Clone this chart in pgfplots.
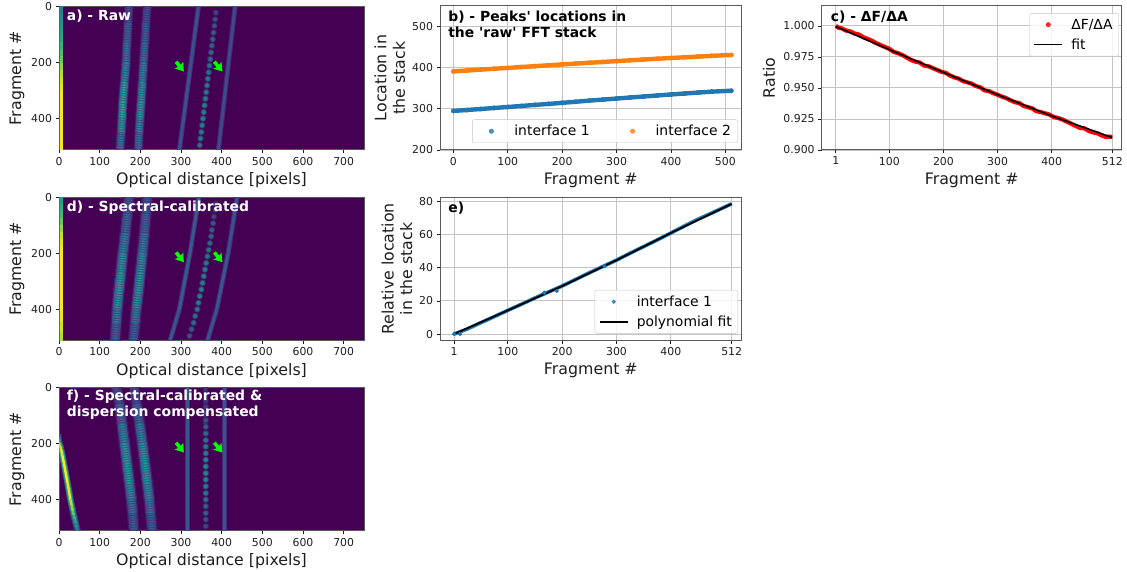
\documentclass[border=0pt]{standalone}
\usepackage{fontspec}
\setmainfont{DejaVu Sans}[Ligatures=TeXOff]
\usepackage{pgfplots}
\usepackage{pgfplotstable}
\pgfplotsset{compat=1.18}
\usetikzlibrary{arrows.meta}
\definecolor{mplblue}{HTML}{1F77B4}
\definecolor{mplorange}{HTML}{FF7F0E}
\definecolor{bgv}{HTML}{440154}
\definecolor{gridc}{HTML}{C4C4C4}
\definecolor{spine}{HTML}{5A5A5A}
\definecolor{txt}{HTML}{1E1E1E}
\newcommand\tickf{\fontsize{10.9}{12}\selectfont}
\newcommand\labf{\fontsize{15.8}{18.5}\selectfont}
\newcommand\legf{\fontsize{13.9}{16}\selectfont}
\newcommand\titf{\fontsize{13.9}{16}\selectfont\bfseries}
\pgfplotsset{
 base/.style={scale only axis,anchor=south west,
  /pgf/number format/assume math mode=true,
  tick align=outside,tick pos=left,major tick length=3.5pt,
  tick style={color=txt,line width=0.7pt},
  axis line style={color=spine,line width=1pt},
  tick label style={font=\tickf,color=txt},
  label style={font=\labf,color=txt},
  xlabel style={at={(axis description cs:0.5,-0.21)},anchor=center},
  clip=true,
  legend cell align=left,
  legend image code/.code={\path[draw=none,fill=none] (0pt,-1pt) rectangle (35pt,1pt);\draw[mark repeat=2,mark phase=2,##1] plot coordinates {(0pt,0pt)(14pt,0pt)(28pt,0pt)};},
 },
 heat/.style={base,width=305pt,height=143.5pt,xmin=0,xmax=750,ymin=0,ymax=512,y dir=reverse,
  xtick={0,100,...,700},ytick={0,200,400},
  xlabel={Optical distance [pixels]},ylabel={Fragment \#},
  ylabel style={at={(axis description cs:-0.138,0.5)},anchor=center},
  axis background/.style={fill=bgv},
  colormap/viridis,point meta min=0,point meta max=1},
 line/.style={base,width=301.7pt,height=144pt,grid=major,grid style={color=gridc,line width=0.9pt},
  legend style={draw=gridc,rounded corners=2pt,fill=white,fill opacity=0.8,text opacity=1,font=\legf,row sep=4pt,inner xsep=4pt,inner ysep=3.5pt}},
}
% --- helpers that draw the soft bands of the heat maps
\newcommand\glow[5]{%
 \addplot[mesh,line width=#2pt,point meta={\thisrow{m}*0.16}] table[x=x,y=y]{#1};
 \addplot[mesh,line width=#3pt,point meta={\thisrow{m}*0.5}] table[x=x,y=y]{#1};
 \addplot[mesh,line width=#4pt,dash pattern=on 1.2pt off 1.2pt,point meta={\thisrow{m}*0.8}] table[x=x,y=y]{#1};
 \addplot[mesh,line width=#5pt,dash pattern=on 1.2pt off 1.2pt,point meta={\thisrow{m}}] table[x=x,y=y]{#1};
}
\newcommand\faint[1]{%
 \addplot[mesh,line width=5pt,point meta={\thisrow{m}*0.55}] table[x=x,y=y]{#1};
 \addplot[mesh,line width=2.8pt,point meta={\thisrow{m}*1.2}] table[x=x,y=y]{#1};
}
\newcommand\beads[1]{%
 \addplot[scatter,only marks,mark=*,mark size=3pt,scatter src=explicit,point meta={\thisrow{m}*0.5},mark options={draw=none}] table[x=x,y=y]{#1};
 \addplot[scatter,only marks,mark=*,mark size=2.2pt,scatter src=explicit,point meta={\thisrow{m}*1.1},mark options={draw=none}] table[x=x,y=y]{#1};
}
\newcommand\limearrow[4]{%
 \addplot[color=green,line width=3.6pt,-{Stealth[length=8pt,width=10.5pt,inset=1.5pt]}] coordinates {(#1,#2)(#3,#4)};
}
% ---- panel a
\pgfplotstableread{
x y m
172 0 0.24
170 60 0.30
167 130 0.38
165 200 0.44
161 270 0.55
157 340 0.66
155 400 0.62
153 450 0.48
150 512 0.34
}\aA
\pgfplotstableread{
x y m
217 0 0.24
214 60 0.30
211 130 0.36
208 200 0.42
205 270 0.50
202 340 0.58
199 400 0.55
197 450 0.44
195 512 0.34
}\aB
\pgfplotstableread{
x y m
343 0 0.20
296 512 0.22
}\aC
\pgfplotstableread{
x y m
433 0 0.18
392 512 0.20
}\aD
\pgfplotstableread{
x y m
386 22 0.18
384 46 0.21
382 69 0.23
380 93 0.25
378 117 0.26
376 140 0.27
374 164 0.29
372 188 0.30
370 211 0.32
368 235 0.33
366 258 0.34
364 282 0.36
362 306 0.36
360 329 0.37
358 353 0.38
356 377 0.38
354 400 0.38
352 424 0.38
350 448 0.37
348 471 0.36
346 495 0.33
}\aE
\pgfplotstableread{
x y m
4.5 0 0.42
4.5 25 0.46
4.5 50 0.50
4.5 75 0.54
4.5 100 0.58
4.5 125 0.63
4.5 150 0.68
4.5 175 0.74
4.5 200 0.80
4.5 225 0.86
4.5 250 0.91
4.5 275 0.95
4.5 300 0.98
4.5 512 1.00
}\aF
\pgfplotstableread{
x y m
0.7 0 0.36
0.7 512 0.36
}\aG
% ---- panel d
\pgfplotstableread{
x y m
172 0 0.26
168 60 0.32
163 130 0.40
157 200 0.50
152 270 0.58
147 340 0.58
143 400 0.50
141 450 0.40
138 512 0.28
}\dA
\pgfplotstableread{
x y m
217 0 0.26
214 60 0.30
210 130 0.38
205 200 0.48
200 270 0.56
195 340 0.56
190 400 0.48
187 450 0.38
183 512 0.28
}\dB
\pgfplotstableread{
x y m
344 0 0.22
322 200 0.24
296 400 0.24
273 512 0.20
}\dC
\pgfplotstableread{
x y m
438 0 0.20
416 200 0.22
388 400 0.23
365 512 0.20
}\dD
\pgfplotstableread{
x y m
386 22 0.12
384 46 0.15
381 69 0.19
379 93 0.23
376 117 0.26
374 140 0.28
371 164 0.30
368 188 0.32
365 211 0.34
362 235 0.36
359 258 0.37
356 282 0.38
353 306 0.38
350 329 0.38
346 353 0.38
343 377 0.36
340 400 0.34
335 424 0.32
331 448 0.30
326 471 0.26
321 495 0.22
}\dE
\pgfplotstableread{
x y m
4.5 0 0.55
4.5 25 0.60
4.5 50 0.66
4.5 75 0.72
4.5 100 0.80
4.5 125 0.88
4.5 150 0.94
4.5 175 0.98
4.5 200 1.00
4.5 400 1.00
4.5 440 0.96
4.5 480 0.90
4.5 512 0.86
}\dF
\pgfplotstableread{
x y m
0.7 0 0.40
0.7 512 0.42
}\dG
% ---- panel f
\pgfplotstableread{
x y m
141 0 0.20
149 60 0.30
155 130 0.42
161 200 0.52
167 270 0.58
173 340 0.56
178 400 0.46
181 450 0.36
184 512 0.26
}\fA
\pgfplotstableread{
x y m
185 0 0.20
191 60 0.30
198 130 0.42
205 200 0.52
211 270 0.56
217 340 0.54
222 400 0.46
225 450 0.36
229 512 0.26
}\fB
\pgfplotstableread{
x y m
316 0 0.22
316 512 0.22
}\fC
\pgfplotstableread{
x y m
406 0 0.20
406 512 0.22
}\fD
\pgfplotstableread{
x y m
361 0 0.12
361 130 0.14
}\fG
\pgfplotstableread{
x y m
361 22 0.15
361 46 0.16
361 69 0.17
361 93 0.19
361 117 0.23
361 140 0.27
361 164 0.31
361 188 0.34
361 211 0.36
361 235 0.38
361 258 0.40
361 282 0.41
361 306 0.41
361 329 0.40
361 353 0.38
361 377 0.36
361 400 0.32
361 424 0.28
361 448 0.26
361 471 0.22
361 495 0.20
}\fE
\pgfplotstableread{
x y m
0 165 0.22
0 175 0.38
0 185 0.58
0 195 0.76
2 205 0.88
5 220 0.96
8 240 1.00
12 270 1.00
21 340 1.00
28 400 0.94
31 420 0.88
34 440 0.80
36 455 0.72
39 470 0.62
41 485 0.55
44 500 0.48
46 512 0.42
}\fF
% ---- panel b
\pgfplotstableread{
x y
0 295
25 297.2
50 299.6
75 302.1
100 304.5
125 307
150 309.6
175 312
200 314.6
225 317.2
250 320
275 322.5
300 325
325 327.6
350 330
375 332.6
400 335
425 337.3
450 339.6
475 341.8
511 344
}\bI
\pgfplotstableread{
x y
0 391
25 393.2
50 395.3
75 397.4
100 399.5
125 401.6
150 403.8
175 405.9
200 408
225 410
250 412
275 414
300 416
325 418
350 420
375 421.8
400 423.6
425 425.3
450 427
475 428.8
511 431
}\bII
% ---- panel c
\pgfplotstableread{
x y
1 1.0000
6 0.9985
12 0.9980
20 0.9962
28 0.9955
36 0.9938
44 0.9930
52 0.9908
60 0.9895
68 0.9880
76 0.9860
84 0.9845
92 0.9830
100 0.9815
108 0.9790
116 0.9780
124 0.9765
132 0.9745
140 0.9725
148 0.9712
156 0.9705
164 0.9680
172 0.9675
180 0.9660
188 0.9645
196 0.9630
204 0.9622
212 0.9600
220 0.9585
228 0.9575
236 0.9555
244 0.9545
252 0.9535
260 0.9515
268 0.9505
276 0.9480
284 0.9475
292 0.9458
300 0.9445
308 0.9430
316 0.9418
324 0.9400
332 0.9385
340 0.9378
348 0.9355
356 0.9345
364 0.9335
372 0.9312
380 0.9305
388 0.9295
396 0.9285
404 0.9265
412 0.9258
420 0.9245
428 0.9228
436 0.9212
444 0.9195
452 0.9178
460 0.9175
468 0.9155
476 0.9142
484 0.9135
492 0.9118
500 0.9105
506 0.9108
512 0.9105
}\cD
\pgfplotstableread{
x y
1 0.9995
100 0.9808
200 0.9625
300 0.9445
400 0.9274
512 0.9100
}\cF
% ---- panel e
\pgfplotstableread{
x y
1 0
25 3
50 6.8
75 10.5
100 14.3
125 18
150 21.8
175 25.4
200 29
225 33
250 37
275 40.8
300 44.6
325 48.8
350 52.8
375 56.8
400 61
425 65.2
450 69.3
475 73
500 76.8
512 78.6
}\eD
\pgfplotstableread{
x y
1 0
12 0
167 25
190 26
278 41
}\eO
\pgfplotstableread{
x y
1 0
100 14.3
200 29
300 44.6
400 61
512 78.6
}\eF
\begin{document}
\begin{tikzpicture}
\path[use as bounding box] (0pt,0pt) rectangle (1127pt,572pt);
% ---------- a
\begin{axis}[heat,at={(59pt,422pt)},
 extra description/.code={\node[anchor=west,text=white,font=\titf,inner sep=0pt] at (0.0253,0.93) {a) - Raw};}]
\addplot[mesh,line width=3.6pt,point meta=\thisrow{m}] table[x=x,y=y]{\aF};
\addplot[mesh,line width=1.1pt,point meta=\thisrow{m}] table[x=x,y=y]{\aG};
\glow{\aA}{9.5}{7.5}{5.5}{2.4}
\glow{\aB}{9.5}{7.5}{5.5}{2.4}
\faint{\aC}\faint{\aD}\beads{\aE}
\limearrow{288}{197}{307}{232}
\limearrow{382}{197}{402}{232}
\end{axis}
% ---------- d
\begin{axis}[heat,at={(59pt,231.3pt)},
 extra description/.code={\node[anchor=west,text=white,font=\titf,inner sep=0pt] at (0.0253,0.93) {d) - Spectral-calibrated};}]
\addplot[mesh,line width=3.6pt,point meta=\thisrow{m}] table[x=x,y=y]{\dF};
\addplot[mesh,line width=1.1pt,point meta=\thisrow{m}] table[x=x,y=y]{\dG};
\glow{\dA}{11.5}{9}{6.5}{2.8}
\glow{\dB}{11.5}{9}{6.5}{2.8}
\faint{\dC}\faint{\dD}\beads{\dE}
\limearrow{288}{197}{307}{232}
\limearrow{382}{197}{402}{232}
\end{axis}
% ---------- f
\begin{axis}[heat,at={(59pt,41pt)},
 extra description/.code={\node[anchor=west,align=left,text=white,font=\titf,inner sep=0pt] at (0.0253,0.88) {f) - Spectral-calibrated \&\\dispersion compensated};}]
\addplot[mesh,line width=6.5pt,point meta={\thisrow{m}*0.28}] table[x=x,y=y]{\fF};
\addplot[mesh,line width=4.6pt,point meta={\thisrow{m}*0.62}] table[x=x,y=y]{\fF};
\addplot[mesh,line width=2.4pt,point meta=\thisrow{m}] table[x=x,y=y]{\fF};
\glow{\fA}{11.5}{9}{6.5}{2.8}
\glow{\fB}{11.5}{9}{6.5}{2.8}
\faint{\fC}\faint{\fD}\faint{\fG}\beads{\fE}
\limearrow{288}{197}{307}{232}
\limearrow{382}{197}{402}{232}
\end{axis}
% ---------- b
\begin{axis}[line,at={(440pt,422pt)},xmin=-24.5,xmax=530,ymin=200,ymax=550,
 xtick={0,100,...,500},ytick={200,300,400,500},xlabel={Fragment \#},
 ylabel={Location in\\the stack},
 ylabel style={at={(axis description cs:-0.167,0.5)},anchor=center,align=center},
 legend columns=2,
 legend style={at={(0.988,0.049)},anchor=south east,inner xsep=5pt,
  /tikz/every even column/.append style={column sep=27pt}},
 extra description/.code={\node[anchor=north west,align=left,text=black,font=\titf,inner sep=0pt] at (0.027,0.97) {b) - Peaks' locations in\\the 'raw' FFT stack};}]
\addplot[forget plot,color=mplblue,line width=4.4pt] table[x=x,y=y]{\bI};
\addplot[forget plot,color=mplorange,line width=4.4pt] table[x=x,y=y]{\bII};
\addplot[only marks,mark=*,mark size=2.2pt,color=mplblue] table[x=x,y=y]{\bI};
\addlegendentry{interface 1}
\addplot[only marks,mark=*,mark size=2.2pt,color=mplorange] table[x=x,y=y]{\bII};
\addlegendentry{interface 2}
\end{axis}
% ---------- c
\begin{axis}[line,width=300pt,at={(821.7pt,422pt)},xmin=-24.9,xmax=529.4,ymin=0.9,ymax=1.016,
 xtick={1,100,200,300,400,512},ytick={0.9,0.925,0.95,0.975,1},
 yticklabel style={/pgf/number format/fixed,/pgf/number format/fixed zerofill,/pgf/number format/precision=3},
 scaled y ticks=false,
 xlabel={Fragment \#},ylabel={Ratio},
 ylabel style={at={(axis description cs:-0.176,0.5)},anchor=center},
 legend style={at={(0.99,0.95)},anchor=north east},
 extra description/.code={\node[anchor=west,text=black,font=\titf,inner sep=0pt] at (0.03,0.925) {c) - ΔF/ΔA};}]
\addplot[forget plot,color=red,line width=4.2pt,line join=round] table[x=x,y=y]{\cD};
\addplot[only marks,mark=*,mark size=2.2pt,color=red] coordinates {(-100,0.95)};
\addlegendentry{ΔF/ΔA}
\addplot[color=black,line width=1.6pt] table[x=x,y=y]{\cF};
\addlegendentry{fit}
\end{axis}
% ---------- e
\begin{axis}[line,at={(440pt,231.3pt)},height=143.5pt,xmin=-24.8,xmax=530.4,ymin=-4,ymax=82.6,
 xtick={1,100,200,300,400,512},ytick={0,20,40,60,80},
 xlabel={Fragment \#},
 ylabel={Relative location\\in the stack},
 ylabel style={at={(axis description cs:-0.1425,0.5)},anchor=center,align=center},
 legend style={at={(0.988,0.05)},anchor=south east},
 extra description/.code={\node[anchor=west,text=black,font=\titf,inner sep=0pt] at (0.027,0.925) {e)};}]
\addplot[forget plot,color=mplblue,line width=3.6pt] table[x=x,y=y]{\eD};
\addplot[only marks,mark=*,mark size=1.9pt,color=mplblue] table[x=x,y=y]{\eO};
\addlegendentry{interface 1}
\addplot[color=black,line width=1.8pt] table[x=x,y=y]{\eF};
\addlegendentry{polynomial fit}
\end{axis}
\end{tikzpicture}
\end{document}
